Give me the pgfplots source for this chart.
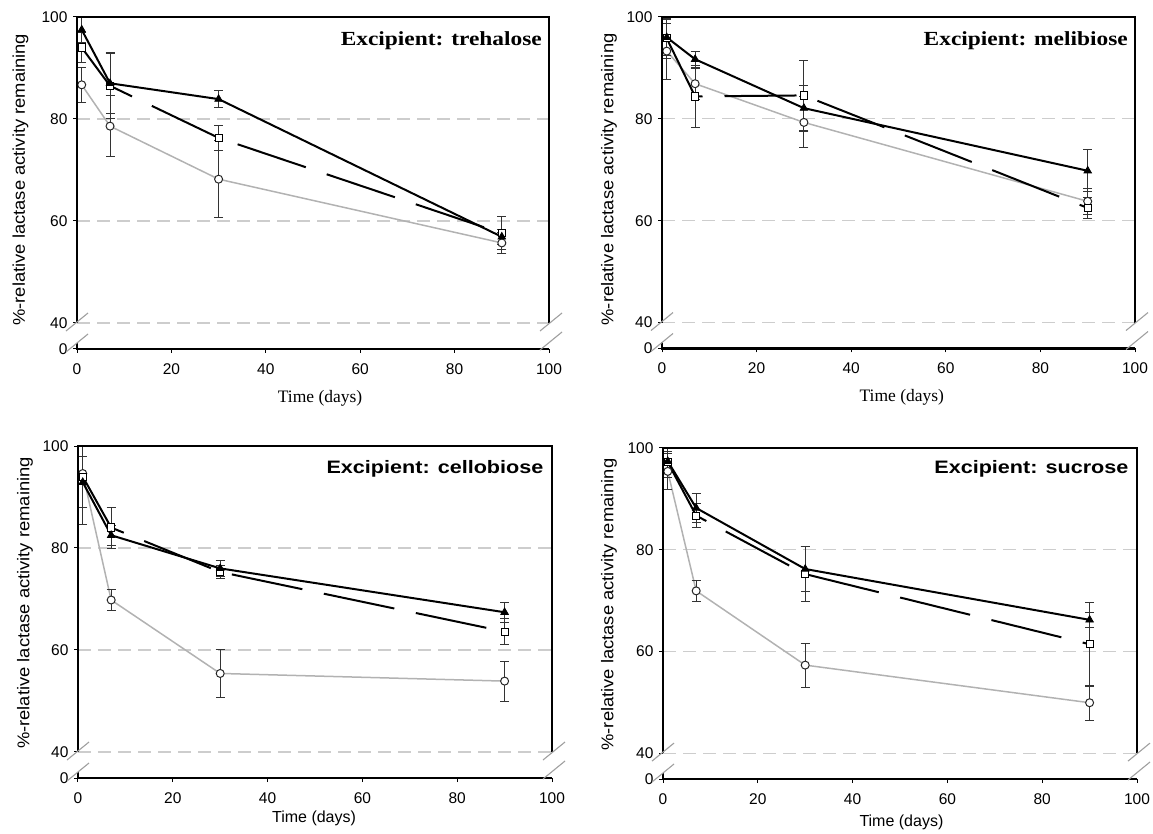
\documentclass[border=0pt]{standalone}
\usepackage{pgfplots}
\pgfplotsset{compat=1.18}
\usepackage{graphicx}
\usepackage{fontspec}
\setmainfont{Liberation Serif}
\newfontfamily\arial{Liberation Sans}
\definecolor{lg}{RGB}{178,178,178}
\definecolor{gridc}{RGB}{205,205,205}

\tikzset{
  toptitle/.style={anchor=north east, inner sep=0pt, font=\bfseries\fontsize{20}{22}\selectfont},
  bottitle/.style={anchor=north east, inner sep=0pt, font=\arial\bfseries\fontsize{18}{20}\selectfont},
}

\pgfplotsset{
  eb/.style={
    error bars/y dir=both, error bars/y explicit,
    error bars/error bar style={line width=0.9pt, black!80, solid},
    error bars/error mark options={rotate=90, mark size=4.5pt, line width=0.9pt, black!80, solid}},
  circ/.style={lg, line width=1.5pt, mark=*, mark size=4pt,
    mark options={fill=white, draw=black!85, line width=1pt, solid}, eb},
  sq/.style={black, line width=2pt, dash pattern=on 72pt off 22pt, mark=square*, mark size=3.6pt,
    mark options={fill=white, draw=black, line width=1pt, solid}, eb},
  tri/.style={black, line width=2pt, mark=triangle*, mark size=4.3pt,
    mark options={fill=black, draw=black, line width=0.8pt, solid}, eb},
  panel/.style={
    scale only axis, anchor=south west,
    xmin=0, xmax=100, ymin=34.9, ymax=100,
    axis line style={draw=none},
    xtick={0,20,40,60,80,100},
    xticklabels={0,20,40,60,80,100},
    ytick={34.9,40,60,80,100},
    yticklabels={0,40,60,80,100},
    extra y ticks={40,60,80},
    extra y tick labels={},
    extra y tick style={grid=major, major tick length=0pt},
    major grid style={gridc, line width=1.1pt, dash pattern=on 13pt off 7pt},
    xtick pos=left, ytick pos=left, tick align=outside,
    major tick length=4pt,
    tick style={black, line width=1pt},
    tick label style={font=\arial\fontsize{15.5}{17}\selectfont},
    xticklabel style={yshift=-7pt},
    yticklabel style={xshift=-2pt},
    ylabel={\scalebox{1.08}[1]{\%-relative lactase activity remaining}},
    ylabel style={font=\arial\fontsize{17}{19}\selectfont, anchor=center},
    after end axis/.code={
      \draw[line width=2.2pt] (rel axis cs:0,0.0783) -- (rel axis cs:0,1) -- (rel axis cs:1,1) -- (rel axis cs:1,0.0783);
      \draw[line width=2.2pt] ([yshift=6pt]rel axis cs:0,0) -- (rel axis cs:0,0) -- (rel axis cs:1,0);
      \draw[gray!75, line width=1.1pt] ([shift={(-11pt,-8pt)}]rel axis cs:0,0.0783) -- ([shift={(11pt,10pt)}]rel axis cs:0,0.0783);
      \draw[gray!75, line width=1.1pt] ([shift={(-11pt,-3pt)}]rel axis cs:0,0) -- ([shift={(11pt,15pt)}]rel axis cs:0,0);
      \draw[gray!75, line width=1.1pt] ([shift={(-9pt,-8pt)}]rel axis cs:1,0.0783) -- ([shift={(13pt,10pt)}]rel axis cs:1,0.0783);
      \draw[gray!75, line width=1.1pt] ([shift={(-9pt,-1pt)}]rel axis cs:1,0) -- ([shift={(13pt,17pt)}]rel axis cs:1,0);
    },
  },
}

\begin{document}
\begin{tikzpicture}
\useasboundingbox (0,0) rectangle (1153pt,833pt);

% trehalose
\begin{axis}[panel, at={(77pt,484pt)}, width=472pt, height=332pt,
  xlabel={Time (days)},
  xlabel style={font=\fontsize{17.5}{19}\selectfont, at={(axis description cs:0.515,-0.148)}, anchor=center},
  ylabel style={at={(axis description cs:-0.12,0.51)}},
  after end axis/.append code={\node[toptitle] at ([xshift=-7pt,yshift=-14.5pt]rel axis cs:1,1) {\scalebox{1.17}[1]{Excipient: trehalose}};}]
\addplot[circ] coordinates {(1,86.7) +- (0,3.5) (7,78.6) +- (0,6) (30,68.2) +- (0,7.6) (90,55.7) +- (0,2)};
\addplot[sq] coordinates {(1,94.0) +- (0,3) (7,86.5) +- (0,6.3) (30,76.3) +- (0,2.4) (90,57.6) +- (0,3.2)};
\addplot[tri] coordinates {(1,97.5) +- (0,2.5) (7,87.0) +- (0,6) (30,83.9) +- (0,1.6) (90,56.9) +- (0,1.5)};
\end{axis}

% melibiose
\begin{axis}[panel, at={(662pt,484.5pt)}, width=473pt, height=331.5pt,
  xlabel={Time (days)},
  xlabel style={font=\fontsize{17.5}{19}\selectfont, at={(axis description cs:0.507,-0.148)}, anchor=center},
  ylabel style={at={(axis description cs:-0.112,0.51)}},
  after end axis/.append code={\node[toptitle] at ([xshift=-7pt,yshift=-14.5pt]rel axis cs:1,1) {\scalebox{1.17}[1]{Excipient: melibiose}};}]
\addplot[circ] coordinates {(1,93.3) +- (0,5.5) (7,86.9) +- (0,3) (30,79.3) +- (0,5) (90,63.8) +- (0,2.5)};
\addplot[sq] coordinates {(1,95.8) +- (0,4) (7,84.4) +- (0,6) (30,84.6) +- (0,6.9) (90,62.5) +- (0,2)};
\addplot[tri] coordinates {(1,96.0) +- (0,3.5) (7,91.7) +- (0,1.6) (30,82.1) +- (0,4.5) (90,69.8) +- (0,4.1)};
\end{axis}

% cellobiose
\begin{axis}[panel, at={(78pt,55pt)}, width=474pt, height=332pt,
  xlabel={Time (days)},
  xlabel style={font=\arial\fontsize{16}{18}\selectfont, at={(axis description cs:0.498,-0.123)}, anchor=center},
  ylabel style={at={(axis description cs:-0.112,0.527)}},
  after end axis/.append code={\node[bottitle] at ([xshift=-8.4pt,yshift=-14pt]rel axis cs:1,1) {\scalebox{1.2}[1]{Excipient: cellobiose}};}]
\addplot[circ] coordinates {(1,94.6) +- (0,10) (7,69.8) +- (0,2.1) (30,55.4) +- (0,4.8) (90,53.9) +- (0,3.9)};
\addplot[sq] coordinates {(1,94.0) +- (0,6) (7,84.0) +- (0,4) (30,75.3) +- (0,1.2) (90,63.6) +- (0,2.6)};
\addplot[tri] coordinates {(1,92.9) +- (0,5) (7,82.5) +- (0,2) (30,76.0) +- (0,1.5) (90,67.4) +- (0,2)};
\end{axis}

% sucrose
\begin{axis}[panel, at={(663pt,54pt)}, width=474pt, height=331pt,
  xlabel={Time (days)},
  xlabel style={font=\arial\fontsize{16}{18}\selectfont, at={(axis description cs:0.503,-0.13)}, anchor=center},
  ylabel style={at={(axis description cs:-0.114,0.527)}},
  after end axis/.append code={\node[bottitle] at ([xshift=-8.4pt,yshift=-12pt]rel axis cs:1,1) {\scalebox{1.2}[1]{Excipient: sucrose}};}]
\addplot[circ] coordinates {(1,95.4) +- (0,3.5) (7,71.9) +- (0,2) (30,57.3) +- (0,4.3) (90,49.9) +- (0,3.4)};
\addplot[sq] coordinates {(1,97.2) +- (0,3) (7,86.7) +- (0,2.3) (30,75.2) +- (0,5.4) (90,61.4) +- (0,8.2)};
\addplot[tri] coordinates {(1,97.4) +- (0,2) (7,88.2) +- (0,2.9) (30,76.2) +- (0,4.5) (90,66.2) +- (0,1.5)};
\end{axis}
\end{tikzpicture}
\end{document}
